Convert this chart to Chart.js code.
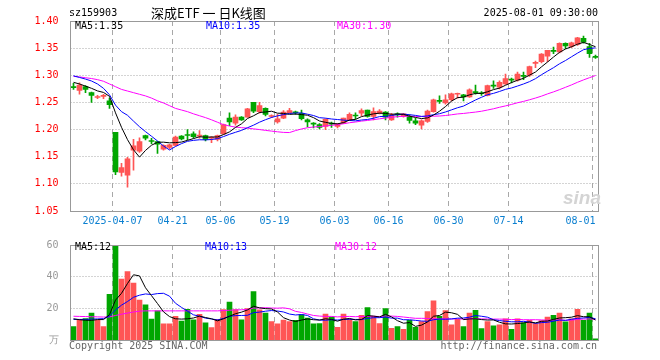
<!DOCTYPE html>
<html>
<head>
<meta charset="utf-8">
<script src="https://cdn.jsdelivr.net/npm/chart.js@4.4.1/dist/chart.umd.min.js"></script>
<style>
  body { margin: 0; background: #fff; width: 660px; height: 360px; position: relative; overflow: hidden;
         font-family: "DejaVu Sans Mono", monospace; font-size: 10px; }
  canvas { position: absolute; left: 0; }
  #kline { top: 0; }
  #vol { top: 235px; }
  .t { position: absolute; white-space: pre; line-height: 12px; }
</style>
</head>
<body>
<canvas id="kline" width="660" height="235"></canvas>
<canvas id="vol" width="660" height="125"></canvas>

<div class="t" style="left:69px;top:7px;color:#000">sz159903</div>
<div class="t" style="left:151px;top:5px;font-family:'Noto Sans CJK SC',sans-serif;font-size:13px;line-height:16px;color:#000">深成ETF 一 日K线图</div>
<div class="t" style="right:62px;top:7px;color:#000">2025-08-01 09:30:00</div>
<div class="t" style="left:75px;top:20px;color:#000">MA5:1.35</div>
<div class="t" style="left:206px;top:20px;color:#0000ff">MA10:1.35</div>
<div class="t" style="left:337px;top:20px;color:#ff00ff">MA30:1.30</div>
<div class="t" style="left:75px;top:241px;color:#000">MA5:12</div>
<div class="t" style="left:205px;top:241px;color:#0000ff">MA10:13</div>
<div class="t" style="left:335px;top:241px;color:#ff00ff">MA30:12</div>
<div class="t" style="left:69px;top:340px;color:#666">Copyright 2025 SINA.COM</div>
<div class="t" style="right:63px;top:340px;color:#666">http://finance.sina.com.cn</div>
<div class="t" style="left:563px;top:188px;font-family:'Liberation Sans',sans-serif;font-style:italic;font-weight:bold;font-size:19px;line-height:20px;color:#d4d4d4">sina</div>

<script>
// trading days shown (2025)
const dates = [
  '03-26','03-27','03-28','03-31','04-01','04-02','04-03','04-07','04-08','04-09',
  '04-10','04-11','04-14','04-15','04-16','04-17','04-18','04-21','04-22','04-23',
  '04-24','04-25','04-28','04-29','04-30','05-06','05-07','05-08','05-09','05-12',
  '05-13','05-14','05-15','05-16','05-19','05-20','05-21','05-22','05-23','05-26',
  '05-27','05-28','05-29','05-30','06-03','06-04','06-05','06-06','06-09','06-10',
  '06-11','06-12','06-13','06-16','06-17','06-18','06-19','06-20','06-23','06-24',
  '06-25','06-26','06-27','06-30','07-01','07-02','07-03','07-04','07-07','07-08',
  '07-09','07-10','07-11','07-14','07-15','07-16','07-17','07-18','07-21','07-22',
  '07-23','07-24','07-25','07-28','07-29','07-30','07-31','08-01'
];

// x axis labels
const tickDates = ['04-07', '04-21', '05-06', '05-19', '06-03', '06-16', '06-30', '07-14', '08-01'];
const tickText  = ['2025-04-07', '04-21', '05-06', '05-19', '06-03', '06-16', '06-30', '07-14', '08-01'];

// value axis ticks
const priceTicks = [1.05, 1.10, 1.15, 1.20, 1.25, 1.30, 1.35, 1.40];
const volTicks = [0, 20, 40, 60];

const open = [
  1.279,1.272,1.279,1.268,1.259,1.261,1.253,1.195,1.121,1.116,
  1.162,1.160,1.189,1.179,1.178,1.164,1.167,1.171,1.188,1.190,
  1.192,1.188,1.189,1.184,1.182,1.192,1.221,1.212,1.223,1.223,
  1.250,1.233,1.239,1.224,1.214,1.221,1.231,1.232,1.230,1.218,
  1.211,1.209,1.206,1.211,1.206,1.212,1.218,1.226,1.230,1.236,
  1.224,1.230,1.232,1.218,1.228,1.224,1.224,1.216,1.208,1.215,
  1.233,1.253,1.249,1.255,1.265,1.264,1.260,1.269,1.267,1.263,
  1.281,1.278,1.284,1.292,1.291,1.299,1.300,1.322,1.325,1.335,
  1.345,1.343,1.359,1.353,1.357,1.368,1.353,1.334
];
const high = [
  1.285,1.286,1.281,1.269,1.263,1.265,1.258,1.195,1.138,1.149,
  1.182,1.185,1.190,1.184,1.178,1.172,1.173,1.188,1.189,1.200,
  1.196,1.198,1.190,1.187,1.190,1.210,1.231,1.227,1.224,1.239,
  1.250,1.250,1.240,1.227,1.228,1.235,1.239,1.234,1.236,1.220,
  1.213,1.211,1.220,1.214,1.211,1.221,1.231,1.231,1.238,1.236,
  1.240,1.237,1.233,1.230,1.231,1.230,1.227,1.221,1.218,1.236,
  1.256,1.262,1.264,1.267,1.267,1.265,1.275,1.282,1.270,1.282,
  1.290,1.290,1.302,1.295,1.306,1.306,1.317,1.326,1.340,1.346,
  1.352,1.360,1.360,1.361,1.370,1.372,1.359,1.337
];
const low = [
  1.274,1.265,1.268,1.250,1.257,1.257,1.239,1.117,1.114,1.094,
  1.125,1.158,1.181,1.174,1.156,1.162,1.164,1.170,1.181,1.181,
  1.184,1.184,1.179,1.176,1.179,1.191,1.207,1.208,1.217,1.223,
  1.231,1.230,1.225,1.222,1.212,1.220,1.230,1.228,1.218,1.205,
  1.203,1.201,1.200,1.204,1.203,1.211,1.217,1.219,1.225,1.223,
  1.218,1.229,1.218,1.217,1.223,1.223,1.212,1.209,1.201,1.213,
  1.232,1.248,1.247,1.253,1.258,1.253,1.259,1.265,1.263,1.262,
  1.276,1.275,1.283,1.286,1.289,1.292,1.298,1.314,1.323,1.325,
  1.340,1.341,1.349,1.351,1.355,1.359,1.333,1.331
];
const close = [
  1.277,1.282,1.274,1.263,1.260,1.263,1.246,1.122,1.130,1.146,
  1.170,1.178,1.184,1.178,1.173,1.171,1.172,1.186,1.183,1.189,
  1.187,1.189,1.182,1.185,1.189,1.209,1.214,1.223,1.218,1.238,
  1.234,1.244,1.228,1.225,1.220,1.232,1.235,1.231,1.220,1.214,
  1.210,1.204,1.219,1.210,1.210,1.221,1.228,1.225,1.235,1.224,
  1.233,1.234,1.223,1.227,1.227,1.229,1.217,1.212,1.216,1.234,
  1.255,1.252,1.255,1.266,1.266,1.260,1.273,1.268,1.266,1.281,
  1.280,1.287,1.294,1.291,1.302,1.298,1.316,1.323,1.339,1.346,
  1.344,1.359,1.354,1.360,1.369,1.361,1.340,1.333
];

const ma5 = [
  1.287,1.284,1.280,1.276,1.2712,1.2684,1.2612,1.2308,1.2042,1.1814,
  1.1628,1.1492,1.1616,1.1712,1.1766,1.1768,1.1756,1.1760,1.1770,1.1802,
  1.1834,1.1868,1.1860,1.1864,1.1864,1.1908,1.1958,1.2040,1.2106,1.2204,
  1.2254,1.2314,1.2324,1.2338,1.2302,1.2298,1.2280,1.2286,1.2276,1.2264,
  1.2220,1.2158,1.2134,1.2114,1.2106,1.2128,1.2176,1.2188,1.2238,1.2266,
  1.2290,1.2302,1.2298,1.2282,1.2288,1.2280,1.2246,1.2224,1.2202,1.2216,
  1.2268,1.2338,1.2424,1.2524,1.2588,1.2598,1.2640,1.2666,1.2666,1.2696,
  1.2736,1.2764,1.2816,1.2866,1.2908,1.2944,1.3002,1.3060,1.3156,1.3244,
  1.3336,1.3422,1.3484,1.3526,1.3572,1.3606,1.3568,1.3526
];
const ma10 = [
  1.299,1.296,1.293,1.2895,1.284,1.276,1.264,1.245,1.233,1.2263,
  1.2156,1.2052,1.1962,1.1877,1.1790,1.1698,1.1624,1.1688,1.1741,1.1784,
  1.1801,1.1812,1.1810,1.1817,1.1833,1.1871,1.1913,1.1950,1.1985,1.2034,
  1.2081,1.2136,1.2182,1.2222,1.2253,1.2276,1.2297,1.2305,1.2307,1.2283,
  1.2259,1.2219,1.2210,1.2195,1.2185,1.2174,1.2167,1.2161,1.2176,1.2186,
  1.2209,1.2239,1.2243,1.2260,1.2277,1.2285,1.2274,1.2261,1.2242,1.2252,
  1.2274,1.2292,1.2324,1.2363,1.2402,1.2433,1.2489,1.2545,1.2595,1.2642,
  1.2667,1.2702,1.2741,1.2766,1.2802,1.2840,1.2883,1.2938,1.3011,1.3076,
  1.3140,1.3212,1.3272,1.3341,1.3408,1.3471,1.3495,1.3505
];
const ma30 = [
  1.298,1.297,1.2955,1.294,1.292,1.289,1.284,1.279,1.274,1.271,
  1.268,1.265,1.262,1.258,1.253,1.249,1.244,1.239,1.236,1.233,
  1.229,1.2255,1.222,1.218,1.2135,1.209,1.2065,1.2045,1.2035,1.2027,
  1.2013,1.2000,1.1985,1.1972,1.1959,1.1948,1.1945,1.1981,1.2011,1.2034,
  1.2047,1.2056,1.2067,1.2078,1.2090,1.2107,1.2126,1.2139,1.2156,1.2168,
  1.2183,1.2198,1.2212,1.2226,1.2238,1.2245,1.2246,1.2242,1.2242,1.2240,
  1.2247,1.2250,1.2259,1.2273,1.2288,1.2297,1.2310,1.2322,1.2338,1.2360,
  1.2383,1.2411,1.2436,1.2463,1.2494,1.2519,1.2549,1.2581,1.2616,1.2657,
  1.2694,1.2735,1.2779,1.2823,1.2871,1.2915,1.2956,1.2996
];

// volume, in 10k lots
const volume = [
  8.4,13.0,13.6,17.0,12.4,8.4,28.8,59.5,38.4,43.2,
  36.0,25.2,22.2,13.2,18.4,10.2,10.2,15.0,12.0,19.4,
  12.8,16.2,10.8,7.8,13.0,19.2,24.0,19.2,12.8,19.8,
  30.6,19.0,17.0,11.6,10.2,12.6,11.6,12.4,16.0,13.8,
  10.2,10.4,16.4,14.4,8.0,16.4,13.0,11.6,15.6,20.4,
  15.0,10.4,19.8,7.4,8.4,6.8,12.4,8.0,11.6,18.0,
  24.8,15.0,18.6,9.6,13.0,8.4,17.0,18.8,7.2,11.6,
  9.0,9.6,13.4,6.8,13.4,10.8,12.4,10.4,12.2,14.4,
  15.6,17.0,11.4,13.4,19.4,12.4,17.0,0.8
];
const volMa5 = [
  13.4,12.8,12.5,12.4,12.9,12.9,16.0,25.2,29.5,35.7,
  41.2,40.5,33.0,28.0,23.0,17.8,14.8,13.4,13.2,13.4,
  13.9,15.1,14.2,13.4,12.1,13.4,15.0,16.6,17.6,19.0,
  21.3,20.3,19.8,19.6,17.7,14.1,12.6,11.7,12.6,13.3,
  12.8,12.6,13.4,13.0,11.9,13.1,13.6,12.7,12.9,15.4,
  15.1,14.6,16.2,14.6,12.2,10.6,11.0,8.6,9.4,11.4,
  15.0,15.5,17.6,17.2,16.2,12.9,13.3,13.4,12.9,12.6,
  12.7,11.2,10.2,10.1,10.4,10.8,11.4,10.8,11.8,12.0,
  13.0,13.9,14.1,14.4,15.4,14.7,14.7,12.6
];
const volMa10 = [
  13.0,13.0,13.0,13.2,13.3,13.5,15.0,19.0,22.0,24.3,
  27.0,28.3,29.1,28.7,29.3,29.5,27.7,23.2,20.6,18.2,
  15.9,15.0,13.8,13.3,12.7,13.6,15.0,15.4,15.5,15.6,
  17.3,17.6,18.2,18.6,18.3,17.7,16.4,15.8,16.1,15.5,
  13.4,12.6,12.5,12.8,12.6,13.0,13.1,13.0,13.0,13.6,
  14.1,14.1,14.5,13.8,13.8,12.8,12.8,12.4,12.0,11.8,
  12.8,13.2,13.1,13.3,13.8,13.9,14.4,15.5,15.0,14.4,
  12.8,12.3,11.8,11.5,11.5,11.8,11.3,10.5,11.0,11.2,
  11.9,12.6,12.4,13.1,13.7,13.9,14.3,13.4
];
const volMa30 = [
  15.0,14.9,14.8,14.7,14.6,14.5,14.6,15.5,16.3,17.0,
  17.7,18.2,18.4,18.4,18.4,18.4,18.4,18.4,18.4,18.4,
  18.4,18.4,18.4,18.4,18.4,18.6,18.8,19.0,19.1,19.3,
  20.1,20.3,20.4,20.2,20.1,20.3,19.7,18.1,17.4,16.4,
  15.5,15.1,14.9,14.9,14.6,14.8,14.9,14.7,14.9,14.9,
  15.0,14.8,15.1,15.1,14.9,14.5,14.1,13.7,13.7,13.6,
  13.4,13.3,13.4,13.3,13.4,13.2,13.4,13.6,13.3,13.3,
  13.2,13.2,13.1,12.9,13.0,12.8,12.8,12.8,12.7,12.5,
  12.5,12.7,12.4,12.6,13.0,13.2,13.3,13.1
];

const RED = '#ff5555';
const GREEN = '#00a600';
const GRID = '#a8a8a8';
const FONT = 'DejaVu Sans Mono';

const upDown = close.map((c, i) => (c >= open[i] ? RED : GREEN));
const tickIdx = tickDates.map(d => dates.indexOf(d));

// left edge of a category slot
function slotEdge(x, idx) {
  return x.getPixelForValue(idx) - (x.getPixelForValue(1) - x.getPixelForValue(0)) / 2;
}

// dotted value lines + dashed date lines, placed by the chart scales
const gridPlugin = {
  id: 'sinaGrid',
  beforeDatasetsDraw(chart, args, opts) {
    const { ctx, chartArea: a, scales: { x, y } } = chart;
    ctx.save();
    ctx.strokeStyle = GRID;
    ctx.lineWidth = 1;
    ctx.setLineDash([1, 2]);
    opts.values.forEach(v => {
      const py = Math.floor(y.getPixelForValue(v)) + 0.5;
      ctx.beginPath();
      ctx.moveTo(a.left, py);
      ctx.lineTo(a.right, py);
      ctx.stroke();
    });
    ctx.setLineDash([5, 4]);
    tickIdx.forEach(idx => {
      const px = Math.floor(slotEdge(x, idx)) + 0.5;
      ctx.beginPath();
      ctx.moveTo(px, a.top);
      ctx.lineTo(px, a.bottom);
      ctx.stroke();
    });
    ctx.restore();
  }
};

const framePlugin = {
  id: 'frame',
  afterDraw(chart) {
    const { ctx, chartArea: a } = chart;
    ctx.save();
    ctx.strokeStyle = '#999999';
    ctx.lineWidth = 1;
    const l = Math.floor(a.left) + 0.5, t = Math.floor(a.top) + 0.5;
    const r = Math.floor(a.right) + 0.5, b = Math.floor(a.bottom) + 0.5;
    ctx.strokeRect(l, t, r - l, b - t);
    ctx.restore();
  }
};

const dateLabels = {
  id: 'dateLabels',
  afterDraw(chart) {
    const { ctx, chartArea: a } = chart;
    const x = chart.scales.x;
    ctx.save();
    ctx.font = '10px ' + FONT;
    ctx.fillStyle = '#0a7fd0';
    ctx.textBaseline = 'middle';
    tickIdx.forEach((idx, k) => {
      if (k === tickIdx.length - 1) {
        ctx.textAlign = 'right';
        ctx.fillText(tickText[k], a.right - 3, 221);
      } else {
        ctx.textAlign = 'center';
        ctx.fillText(tickText[k], slotEdge(x, idx), 221);
      }
    });
    ctx.restore();
  }
};

function xScale() {
  return {
    offset: true,
    grid: { display: false },
    border: { display: false },
    ticks: { display: false },
    afterFit: s => { s.height = 0; }
  };
}

function yScale(min, max, ticks, color, fmt) {
  return {
    min, max,
    afterBuildTicks: s => { s.ticks = ticks.map(v => ({ value: v })); },
    afterFit: s => { s.width = 70.5; },
    grid: { display: false },
    border: { display: false },
    ticks: { color, padding: 4, font: { family: FONT, size: 10 }, callback: fmt }
  };
}

function lineSet(data, color) {
  return {
    type: 'line', data, borderColor: color, borderWidth: 1,
    pointRadius: 0, tension: 0, fill: false, order: 0
  };
}

new Chart(document.getElementById('kline'), {
  type: 'bar',
  data: {
    labels: dates,
    datasets: [
      {
        data: low.map((l, i) => [l, high[i]]),
        backgroundColor: upDown, barThickness: 1, grouped: false, order: 3
      },
      {
        data: open.map((o, i) => [o, close[i]]),
        backgroundColor: upDown, barThickness: 5, minBarLength: 1, grouped: false, order: 2
      },
      lineSet(ma5, '#000000'),
      lineSet(ma10, '#0000ff'),
      lineSet(ma30, '#ff00ff')
    ]
  },
  options: {
    responsive: false,
    animation: false,
    events: [],
    layout: { padding: { top: 21, right: 61.5, bottom: 24, left: 0 } },
    plugins: { legend: { display: false }, tooltip: { enabled: false }, sinaGrid: { values: priceTicks } },
    scales: {
      x: xScale(),
      y: yScale(1.05, 1.40, priceTicks, '#ff0000', v => v.toFixed(2))
    }
  },
  plugins: [gridPlugin, framePlugin, dateLabels]
});

new Chart(document.getElementById('vol'), {
  type: 'bar',
  data: {
    labels: dates,
    datasets: [
      { data: volume, backgroundColor: upDown, barThickness: 5, grouped: false, order: 2 },
      lineSet(volMa5, '#000000'),
      lineSet(volMa10, '#0000ff'),
      lineSet(volMa30, '#ff00ff')
    ]
  },
  options: {
    responsive: false,
    animation: false,
    events: [],
    layout: { padding: { top: 5, right: 61.5, bottom: 20, left: 0 } },
    plugins: { legend: { display: false }, tooltip: { enabled: false }, sinaGrid: { values: volTicks } },
    scales: {
      x: xScale(),
      y: yScale(0, 60, volTicks, '#999999', v => (v === 0 ? '万' : String(v)))
    }
  },
  plugins: [gridPlugin, framePlugin]
});
</script>
</body>
</html>
